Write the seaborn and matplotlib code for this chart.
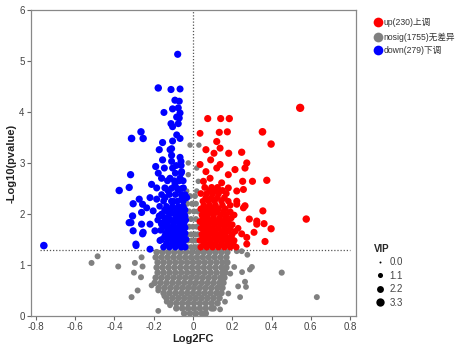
import matplotlib
matplotlib.use("Agg")
import matplotlib.pyplot as plt
import seaborn as sns
import pandas as pd
from matplotlib.lines import Line2D

# ---------------- data ----------------
# down-regulated, scattered points
down_x = [
    -0.760, -0.078, -0.177, -0.112, -0.066, -0.092, -0.070, -0.104, -0.075, -0.066,
    -0.148, -0.083, -0.070, -0.112, -0.104, -0.075, -0.265, -0.313, -0.254, -0.083,
    -0.066, -0.155, -0.104, -0.172, -0.109, -0.117, -0.109, -0.066, -0.061, -0.155,
    -0.109, -0.190, -0.146, -0.104, -0.318, -0.177, -0.160, -0.117, -0.066, -0.058,
    -0.376, -0.325, -0.211, -0.185, -0.143, -0.126, -0.092, -0.075, -0.049, -0.305,
    -0.274, -0.257, -0.219, -0.185, -0.143, -0.101, -0.058, -0.032, -0.308, -0.262,
    -0.236, -0.262, -0.203, -0.172, -0.134, -0.083, -0.049, -0.041, -0.325, -0.305,
    -0.254, -0.219, -0.194, -0.160, -0.117, -0.066, -0.041, -0.257, -0.291, -0.219,
    -0.168, -0.134, -0.101, -0.058, -0.316, -0.290]
down_y = [
    1.38, 5.13, 4.47, 4.44, 4.45, 4.23, 4.21, 4.06, 4.08, 3.98,
    3.99, 3.90, 3.88, 3.77, 3.71, 3.77, 3.61, 3.48, 3.48, 3.55,
    3.48, 3.40, 3.43, 3.26, 3.28, 3.26, 3.15, 3.11, 3.03, 3.06,
    3.03, 2.93, 2.90, 2.90, 2.77, 2.80, 2.70, 2.70, 2.70, 2.83,
    2.46, 2.52, 2.58, 2.51, 2.51, 2.45, 2.58, 2.48, 2.51, 2.20,
    2.29, 2.19, 2.32, 2.29, 2.32, 2.25, 2.29, 2.32, 1.96, 2.03,
    2.12, 1.80, 2.06, 1.96, 2.06, 2.06, 2.12, 1.96, 1.83, 1.67,
    1.64, 1.80, 1.67, 1.80, 1.73, 1.80, 1.73, 1.61, 1.41, 1.31,
    1.48, 1.41, 1.48, 1.41, 1.83, 1.38]
down_vip = [
    2.7, 2.4, 2.6, 2.4, 2.3, 2.4, 2.3, 2.4, 2.3, 2.3,
    2.3, 2.4, 2.3, 2.4, 2.3, 2.3, 2.6, 2.7, 2.6, 2.3,
    2.3, 2.4, 2.3, 2.4, 2.3, 2.3, 2.4, 2.3, 2.3, 2.4,
    2.3, 2.4, 2.3, 2.3, 2.5, 2.3, 2.4, 2.3, 2.3, 2.3,
    2.6, 2.5, 2.4, 2.3, 2.4, 2.3, 2.3, 2.4, 2.3, 2.5,
    2.4, 2.4, 2.3, 2.3, 2.4, 2.3, 2.3, 2.3, 2.5, 2.4,
    2.3, 2.4, 2.3, 2.3, 2.4, 2.3, 2.3, 2.3, 2.5, 2.4,
    2.4, 2.3, 2.3, 2.4, 2.3, 2.3, 2.3, 2.4, 2.3, 2.3,
    2.3, 2.3, 2.3, 2.3, 2.4, 2.3]
# down-regulated, dense core (rows)
down_core_y = [1.35, 1.42, 1.50, 1.56, 1.62, 1.68, 1.75, 1.82, 1.88, 1.94,
               2.00, 2.08, 2.15, 2.25, 2.38, 2.50, 2.65, 2.80, 2.95]
down_core_x = [
    [-0.15, -0.12, -0.09, -0.06, -0.04],
    [-0.135, -0.105, -0.08, -0.05],
    [-0.16, -0.13, -0.10, -0.075, -0.05, -0.035],
    [-0.145, -0.12, -0.09, -0.065, -0.045],
    [-0.14, -0.11, -0.085, -0.06, -0.04],
    [-0.165, -0.13, -0.10, -0.075, -0.05],
    [-0.15, -0.125, -0.095, -0.07, -0.045],
    [-0.16, -0.13, -0.10, -0.07, -0.045],
    [-0.18, -0.14, -0.11, -0.08, -0.055, -0.037],
    [-0.15, -0.125, -0.085, -0.06],
    [-0.16, -0.12, -0.095, -0.065, -0.045],
    [-0.145, -0.115, -0.085, -0.06, -0.04],
    [-0.17, -0.135, -0.105, -0.075, -0.05],
    [-0.15, -0.11, -0.08, -0.05],
    [-0.16, -0.12, -0.09, -0.06, -0.04],
    [-0.11, -0.08, -0.055],
    [-0.13, -0.095, -0.07, -0.05],
    [-0.09, -0.06],
    [-0.085, -0.06]]
down_core_vip = [2.1, 2.1, 2.1, 2.0, 2.0, 2.1, 2.1, 2.0, 2.0, 2.1,
                 2.1, 2.0, 2.0, 2.1, 2.1, 2.2, 2.2, 2.2, 2.2]

# up-regulated, scattered points
up_x = [
    0.546, 0.577, 0.398, 0.398, 0.354, 0.075, 0.141, 0.185, 0.036, 0.134,
    0.175, 0.121, 0.138, 0.066, 0.107, 0.182, 0.248, 0.090, 0.138, 0.274,
    0.265, 0.036, 0.066, 0.121, 0.180, 0.214, 0.253, 0.303, 0.376, 0.265,
    0.356, 0.223, 0.325, 0.362, 0.311, 0.367, 0.274, 0.053, 0.087, 0.146,
    0.180, 0.223, 0.257, 0.223, 0.257, 0.287, 0.325, 0.248, 0.274]
up_y = [
    4.08, 1.90, 3.37, 1.71, 3.61, 3.87, 3.87, 3.87, 3.58, 3.60,
    3.61, 3.42, 3.29, 3.26, 3.19, 3.19, 3.21, 3.06, 2.97, 3.00,
    2.90, 2.97, 2.83, 2.90, 2.77, 2.87, 2.64, 2.64, 2.66, 2.16,
    2.06, 2.25, 1.86, 1.81, 1.64, 1.46, 1.54, 2.64, 2.70, 2.61,
    2.51, 2.45, 2.48, 2.19, 2.12, 1.90, 1.80, 1.61, 1.41]
up_vip = [
    3.3, 2.6, 2.6, 2.5, 2.8, 2.4, 2.4, 2.5, 2.2, 2.4,
    2.4, 2.4, 2.3, 2.4, 2.3, 2.4, 2.5, 2.3, 2.3, 2.4,
    2.4, 2.3, 2.3, 2.3, 2.3, 2.4, 2.4, 2.4, 2.5, 2.4,
    2.4, 2.3, 2.4, 2.4, 2.3, 2.4, 2.3, 2.3, 2.3, 2.3,
    2.3, 2.3, 2.3, 2.3, 2.3, 2.4, 2.4, 2.3, 2.3]
# up-regulated, dense core (rows)
up_core_y = [1.35, 1.42, 1.48, 1.54, 1.60, 1.66, 1.72, 1.79, 1.85, 1.92,
             1.98, 2.04, 2.10, 2.17, 2.25, 2.32, 2.40, 2.46, 2.52]
up_core_x = [
    [0.04, 0.07, 0.10, 0.13, 0.16, 0.19, 0.22],
    [0.055, 0.085, 0.115, 0.145, 0.175, 0.205],
    [0.035, 0.06, 0.09, 0.12, 0.15, 0.18, 0.21],
    [0.05, 0.08, 0.11, 0.14, 0.17, 0.195],
    [0.045, 0.075, 0.105, 0.135, 0.165, 0.20],
    [0.055, 0.085, 0.115, 0.15, 0.18, 0.215],
    [0.04, 0.07, 0.10, 0.13, 0.16, 0.19, 0.23],
    [0.05, 0.08, 0.11, 0.14, 0.17, 0.20],
    [0.035, 0.06, 0.09, 0.12, 0.15, 0.18],
    [0.05, 0.075, 0.105, 0.135, 0.165, 0.195],
    [0.045, 0.075, 0.105, 0.14, 0.17, 0.21],
    [0.055, 0.09, 0.12, 0.155, 0.19],
    [0.04, 0.07, 0.10, 0.13, 0.165],
    [0.055, 0.085, 0.115, 0.15, 0.19],
    [0.05, 0.08, 0.11, 0.145, 0.18],
    [0.065, 0.095, 0.125, 0.16],
    [0.04, 0.07, 0.10, 0.13, 0.17],
    [0.085, 0.115, 0.15],
    [0.06, 0.095, 0.125]]
up_core_vip = [2.1, 2.0, 2.0, 2.1, 2.1, 2.0, 2.0, 2.1, 2.1, 2.0,
               2.0, 2.1, 2.1, 2.0, 2.0, 2.1, 2.1, 2.2, 2.2]

# not significant, scattered points
nosig_x = [
    -0.486, -0.517, -0.381, -0.262, -0.296, -0.257, -0.301, -0.265, -0.211, -0.177,
    -0.282, -0.313, -0.177, -0.146, -0.134, -0.117, 0.452, 0.631, 0.300, 0.290,
    0.250, 0.210, 0.190, 0.265, 0.270, 0.230, 0.180, 0.240, 0.163, 0.138,
    0.277, 0.223, 0.248, -0.015, 0.030, -0.024, 0.019, 0.027, -0.024, -0.032, 0.019]
nosig_y = [
    1.17, 1.04, 0.97, 1.15, 1.04, 0.97, 0.85, 0.76, 0.60, 0.50,
    0.50, 0.37, 0.10, 0.39, 0.28, 0.21, 0.85, 0.37, 0.96, 0.91,
    0.86, 0.96, 0.83, 0.67, 0.57, 0.58, 0.44, 0.37, 0.28, 0.13,
    1.20, 1.27, 1.27, 3.35, 3.35, 3.00, 2.90, 2.64, 2.77, 2.45, 2.45]
nosig_vip = [
    1.6, 1.6, 1.6, 1.6, 1.6, 1.6, 1.6, 1.6, 1.5, 1.5,
    1.6, 1.6, 1.5, 1.5, 1.5, 1.5, 1.7, 1.6, 1.6, 1.5,
    1.5, 1.5, 1.5, 1.6, 1.5, 1.5, 1.5, 1.5, 1.5, 1.5,
    1.5, 1.5, 1.5, 1.3, 1.3, 1.3, 1.3, 1.3, 1.3, 1.3, 1.3]
# not significant, dense funnel (rows)
nosig_core_y = [2.35, 2.20, 2.05, 1.90, 1.75, 1.60, 1.48, 1.35,
                1.25, 1.15, 1.05, 0.95, 0.85, 0.75, 0.65, 0.55, 0.45,
                0.35, 0.25, 0.15, 0.05]
nosig_core_x = [
    [-0.015, 0.01],
    [-0.03, -0.005, 0.015],
    [-0.02, 0.005, 0.025],
    [-0.03, -0.01, 0.015],
    [-0.02, 0.0, 0.02],
    [-0.03, -0.01, 0.01, 0.025],
    [-0.025, -0.005, 0.015],
    [-0.03, -0.01, 0.01, 0.025],
    [-0.185, -0.155, -0.125, -0.095, -0.065, -0.035, -0.005, 0.025, 0.055, 0.085, 0.115, 0.145, 0.175],
    [-0.19, -0.16, -0.13, -0.10, -0.07, -0.04, -0.01, 0.02, 0.05, 0.08, 0.11, 0.14, 0.17],
    [-0.18, -0.15, -0.12, -0.09, -0.06, -0.03, 0.0, 0.03, 0.06, 0.09, 0.12, 0.15, 0.175],
    [-0.185, -0.155, -0.125, -0.095, -0.065, -0.035, -0.005, 0.025, 0.055, 0.085, 0.115, 0.145, 0.17],
    [-0.18, -0.15, -0.12, -0.09, -0.06, -0.03, 0.0, 0.03, 0.06, 0.09, 0.12, 0.15, 0.165],
    [-0.19, -0.16, -0.13, -0.10, -0.07, -0.04, -0.01, 0.02, 0.05, 0.08, 0.11, 0.14, 0.16],
    [-0.195, -0.165, -0.135, -0.105, -0.075, -0.045, -0.015, 0.015, 0.045, 0.075, 0.105, 0.135, 0.155],
    [-0.175, -0.145, -0.115, -0.085, -0.055, -0.025, 0.005, 0.035, 0.065, 0.095, 0.125, 0.15],
    [-0.15, -0.12, -0.09, -0.06, -0.03, 0.0, 0.03, 0.06, 0.09, 0.12, 0.145],
    [-0.135, -0.105, -0.075, -0.045, -0.015, 0.015, 0.045, 0.075, 0.105, 0.135],
    [-0.115, -0.085, -0.055, -0.025, 0.005, 0.035, 0.065, 0.095, 0.125],
    [-0.085, -0.055, -0.025, 0.005, 0.035, 0.065, 0.095, 0.105],
    [-0.045, -0.015, 0.015, 0.045, 0.065]]
nosig_core_vip = [1.6, 1.6, 1.6, 1.6, 1.6, 1.6, 1.6, 1.6,
                  2.0, 2.0, 2.0, 2.0, 2.0, 2.0, 2.0, 2.0, 2.0,
                  2.0, 2.0, 2.0, 2.0]

groups = ["up", "nosig", "down"]
legend_labels = ["up(230)上调", "nosig(1755)无差异", "down(279)下调"]
colors = {"up": "#ff0000", "nosig": "#808080", "down": "#0000ff"}
vip_ticks = [0.0, 1.1, 2.2, 3.3]
x_ticks = [-0.8, -0.6, -0.4, -0.2, 0, 0.2, 0.4, 0.6, 0.8]
x_ticklabels = ["-0.8", "-0.6", "-0.4", "-0.2", "0", "0.2", "0.4", "0.6", "0.8"]
y_ticks = [0, 1, 2, 3, 4, 5, 6]
p_cut = 1.3

# ---------------- build table ----------------
def rows_to_records(xrows, ys, vips, grp):
    recs = []
    for xr, yv, vv in zip(xrows, ys, vips):
        for xv in xr:
            recs.append((xv, yv, vv, grp))
    return recs

records = []
records += [(a, b, c, "nosig") for a, b, c in zip(nosig_x, nosig_y, nosig_vip)]
records += rows_to_records(nosig_core_x, nosig_core_y, nosig_core_vip, "nosig")
records += rows_to_records(down_core_x, down_core_y, down_core_vip, "down")
records += [(a, b, c, "down") for a, b, c in zip(down_x, down_y, down_vip)]
records += rows_to_records(up_core_x, up_core_y, up_core_vip, "up")
records += [(a, b, c, "up") for a, b, c in zip(up_x, up_y, up_vip)]
df = pd.DataFrame(records, columns=["log2fc", "logp", "VIP", "group"])

# ---------------- plot ----------------
sns.set_style("white")
plt.rcParams["font.family"] = ["Liberation Sans", "Noto Sans CJK SC", "DejaVu Sans"]

fig = plt.figure(figsize=(4.61, 3.49), dpi=100)
ax = fig.add_axes([0.067, 0.0946, 0.705, 0.877])

size_min, size_max = 2, 36
sns.scatterplot(data=df, x="log2fc", y="logp", hue="group", palette=colors,
                size="VIP", sizes=(size_min, size_max), size_norm=(0, 3.3),
                linewidth=0, alpha=1, legend=False, ax=ax, zorder=3)

ax.axvline(0, color="#555555", lw=0.9, ls=(0, (1, 1.5)), zorder=2)
ax.hlines(p_cut, -0.78, 0.80, color="#555555", lw=0.9, ls=(0, (1, 1.5)), zorder=2)

ax.set_xlim(-0.826, 0.83)
ax.set_ylim(0, 6)
ax.set_xticks(x_ticks)
ax.set_xticklabels(x_ticklabels)
ax.set_yticks(y_ticks)
ax.tick_params(axis="both", labelsize=7, colors="#666666", labelcolor="#444444",
               length=3, width=0.8, direction="out", pad=1.5,
               bottom=True, left=True)
for s in ax.spines.values():
    s.set_color("#888888")
    s.set_linewidth(0.9)
ax.set_xlabel("Log2FC", fontsize=8, fontweight="bold", color="#222222", labelpad=1)
ax.set_ylabel("-Log10(pvalue)", fontsize=8, fontweight="bold", color="#222222", labelpad=2)

# group legend
h1 = [Line2D([0], [0], marker="o", ls="", markersize=7, markerfacecolor=colors[g],
             markeredgewidth=0) for g in groups]
leg1 = fig.legend(h1, legend_labels, loc="upper left", bbox_to_anchor=(0.8, 0.96),
                  frameon=False, fontsize=6.2, handletextpad=0.0, handlelength=1.2,
                  labelspacing=0.55, borderpad=0, labelcolor="#333333")

# VIP size legend
h2 = []
for v in vip_ticks:
    area = size_min + (size_max - size_min) * v / 3.3
    h2.append(Line2D([0], [0], marker="o", ls="", color="black",
                     markersize=area ** 0.5, markeredgewidth=0))
leg2 = fig.legend(h2, [f"{v:.1f}" for v in vip_ticks], loc="upper left",
                  bbox_to_anchor=(0.8, 0.315), frameon=False, fontsize=7,
                  handletextpad=0.3, handlelength=1.3, labelspacing=0.35,
                  borderpad=0, labelcolor="#444444",
                  title="VIP", title_fontproperties={"weight": "bold", "size": 7},
                  alignment="left")

fig.savefig("out.png", dpi=100)
